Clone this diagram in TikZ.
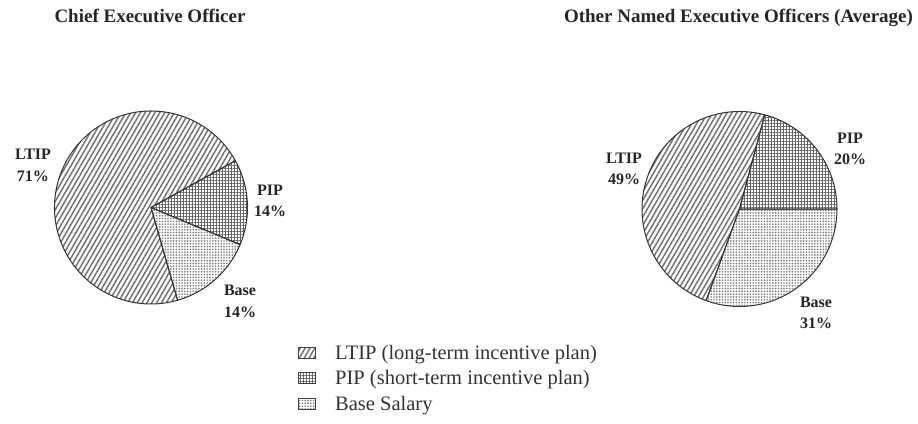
\documentclass[tikz,border=0pt]{standalone}
\usepackage{fontspec}
\setmainfont{Liberation Serif}
\usetikzlibrary{patterns.meta}
\begin{document}
\begin{tikzpicture}[x=1pt,y=1pt,
  ttl/.style={font=\fontsize{19}{22}\selectfont\bfseries, anchor=base, inner sep=0, text=black!85},
  lbl/.style={font=\fontsize{16}{21.5}\selectfont\bfseries, align=center, inner sep=0, text=black!85},
  legtxt/.style={font=\fontsize{20.5}{24}\selectfont, anchor=base west, inner sep=0, text=black!80},
  ltipfill/.style={pattern={Lines[angle=60,distance=4.2pt,line width=1.5pt]}, pattern color=black!55},
  pipfill/.style={pattern={Hatch[angle=0,distance=3pt,line width=0.8pt]}, pattern color=black!60},
  basefill/.style={pattern={Dots[distance=2.8pt,radius=0.95pt]}, pattern color=black!50},
  slice/.style={draw=black!80, line width=1pt, line join=round},
  legbox/.style={draw=black!75, line width=0.7pt, minimum width=17pt, minimum height=11pt, inner sep=0, anchor=north west}
]
\fill[white] (0,0) rectangle (918,-423);
\useasboundingbox (0,0) rectangle (918,-423);

% titles
\node[ttl] (h1) at (150,-22) {Chief Executive Officer};
\node[ttl] (h2) at (738.5,-22) {Other Named Executive Officers (Average)};

% left pie
\coordinate (c1) at (151,-207.5);
\draw[slice, ltipfill] (c1) -- ++(29:96.5) arc[start angle=29, end angle=286, radius=96.5] -- cycle;
\draw[slice, pipfill] (c1) -- ++(-22.6:96.5) arc[start angle=-22.6, end angle=29, radius=96.5] -- cycle;
\draw[slice, basefill] (c1) -- ++(-74:96.5) arc[start angle=-74, end angle=-22.6, radius=96.5] -- cycle;

% right pie
\coordinate (c2) at (739.5,-209);
\draw[slice, ltipfill] (c2) -- ++(75:97.5) arc[start angle=75, end angle=250, radius=97.5] -- cycle;
\draw[slice, pipfill] (c2) -- ++(0:97.5) arc[start angle=0, end angle=75, radius=97.5] -- cycle;
\draw[slice, basefill] (c2) -- ++(-110:97.5) arc[start angle=-110, end angle=0, radius=97.5] -- cycle;

% slice labels
\node[lbl] (l1) at (33,-165.5) {LTIP\\71\%};
\node[lbl] (l2) at (270,-201) {PIP\\14\%};
\node[lbl] (l3) at (240,-301.5) {Base\\14\%};
\node[lbl] (r1) at (624,-169) {LTIP\\49\%};
\node[lbl] (r2) at (850,-149) {PIP\\20\%};
\node[lbl] (r3) at (816,-313) {Base\\31\%};

% legend
\node[legbox, ltipfill] (k1) at (298,-347) {};
\node[legbox, pipfill] (k2) at (298,-372) {};
\node[legbox, basefill] (k3) at (298,-398) {};
\node[legtxt] (t1) at (335,-359) {LTIP (long-term incentive plan)};
\node[legtxt] (t2) at (335,-384) {PIP (short-term incentive plan)};
\node[legtxt] (t3) at (335,-410) {Base Salary};
\end{tikzpicture}
\end{document}
